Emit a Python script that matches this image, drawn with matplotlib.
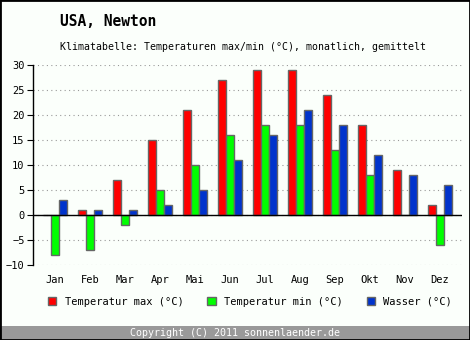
import matplotlib.pyplot as plt
import numpy as np
from matplotlib.patches import Rectangle

months = ["Jan", "Feb", "Mar", "Apr", "Mai", "Jun", "Jul", "Aug", "Sep", "Okt", "Nov", "Dez"]
temp_max = [0, 1, 7, 15, 21, 27, 29, 29, 24, 18, 9, 2]
temp_min = [-8, -7, -2, 5, 10, 16, 18, 18, 13, 8, 0, -6]
wasser = [3, 1, 1, 2, 5, 11, 16, 21, 18, 12, 8, 6]

plt.rcParams['font.family'] = 'DejaVu Sans Mono'
bg = '#fbfffb'

fig = plt.figure(figsize=(4.7, 3.4), dpi=100, facecolor=bg)
ax = fig.add_axes([33 / 470, 75 / 340, 429 / 470, 200 / 340])
ax.set_facecolor(bg)

x = np.arange(len(months))
w = 0.23
b1 = ax.bar(x - w, temp_max, w, color='#ff0000', edgecolor='#666666', linewidth=1, zorder=3,
            label='Temperatur max (°C)')
b2 = ax.bar(x, temp_min, w, color='#00ff00', edgecolor='#666666', linewidth=1, zorder=3,
            label='Temperatur min (°C)')
b3 = ax.bar(x + w, wasser, w, color='#0033cc', edgecolor='#666666', linewidth=1, zorder=3,
            label='Wasser (°C)')

ax.set_xlim(-0.63, 11.63)
ax.set_ylim(-10, 30)
ax.set_yticks(range(-10, 31, 5))
ax.yaxis.grid(True, linestyle=(0, (1, 3)), color='#999999', linewidth=0.8)
ax.axhline(0, color='black', linewidth=1, zorder=4)

for s in ['top', 'right', 'bottom']:
    ax.spines[s].set_visible(False)
ax.spines['left'].set_linewidth(1)
ax.tick_params(axis='y', direction='out', length=4, labelsize=7.5, pad=2)
ax.set_xticks(x)
ax.set_xticklabels(months)
ax.tick_params(axis='x', length=0, labelsize=7.5, pad=7)

fig.text(60 / 470, 1 - 22 / 340, 'USA, Newton', fontsize=10.5, fontweight='bold', va='center')
fig.text(60 / 470, 1 - 47 / 340, 'Klimatabelle: Temperaturen max/min (°C), monatlich, gemittelt',
         fontsize=7.15, va='center')

fig.legend(handles=[b1, b2, b3], ncol=3, loc='center', bbox_to_anchor=(250 / 470, 1 - 302 / 340),
           frameon=False, fontsize=7.5, handlelength=0.8, handleheight=0.8, handletextpad=0.8,
           columnspacing=2.3)

fig.patches.append(Rectangle((0, 0), 1, 14 / 340, transform=fig.transFigure,
                             facecolor='#999999', edgecolor='none'))
fig.text(0.5, 7 / 340, 'Copyright (C) 2011 sonnenlaender.de', color='white', fontsize=7.2,
         ha='center', va='center')
fig.patches.append(Rectangle((0, 0), 1, 1, transform=fig.transFigure, fill=False,
                             edgecolor='black', linewidth=2))

fig.savefig('out.png', dpi=100, facecolor=bg)
